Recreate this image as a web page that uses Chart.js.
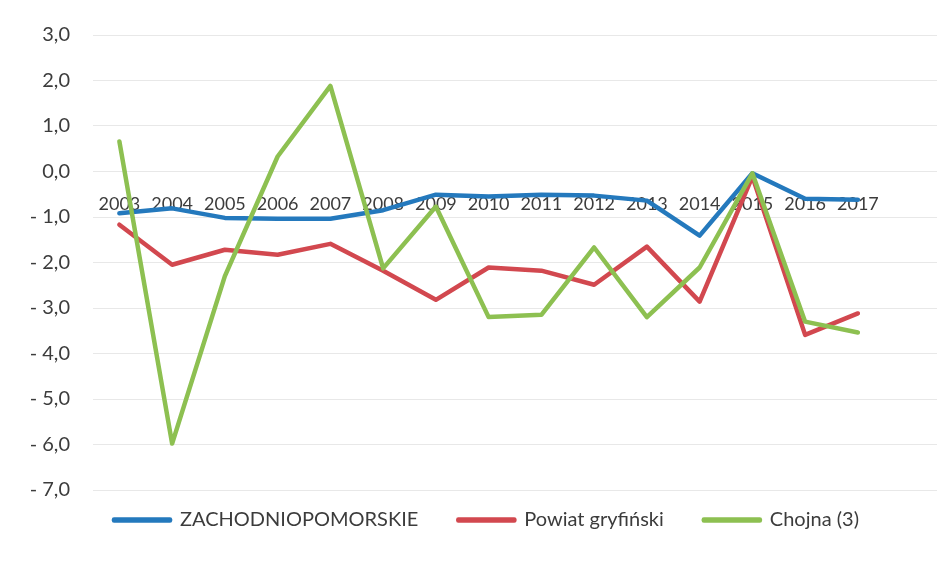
<!DOCTYPE html>
<html>
<head>
<meta charset="utf-8">
<script src="https://cdn.jsdelivr.net/npm/chart.js@4"></script>
<style>
  html, body { margin: 0; padding: 0; background: #fff; }
  #wrap { width: 952px; height: 573px; }
</style>
</head>
<body>
<div id="wrap"><canvas id="chart"></canvas></div>
<script>
// Daten
const years = ['2003','2004','2005','2006','2007','2008','2009','2010','2011','2012','2013','2014','2015','2016','2017',''];
const zachodniopomorskie = [-0.92,-0.81,-1.02,-1.04,-1.04,-0.85,-0.51,-0.55,-0.51,-0.53,-0.64,-1.41,-0.04,-0.60,-0.62];
const powiatGryfinski = [-1.17,-2.05,-1.72,-1.83,-1.59,-2.18,-2.82,-2.11,-2.18,-2.49,-1.65,-2.86,-0.11,-3.59,-3.12];
const chojna = [0.66,-5.98,-2.30,0.33,1.88,-2.13,-0.77,-3.20,-3.15,-1.67,-3.20,-2.11,-0.04,-3.30,-3.54];
const yTickLabels = ['- 7,0','- 6,0','- 5,0','- 4,0','- 3,0','- 2,0','- 1,0','0,0','1,0','2,0','3,0'];

const txt = '#3c3c3c';
const font = 'Lato, "Open Sans", sans-serif';

function line(label, data, color, order){
  return {
    label, data, order,
    borderColor: color, backgroundColor: color,
    borderWidth: 4.5, pointRadius: 0, tension: 0,
    borderJoinStyle: 'round', borderCapStyle: 'round'
  };
}

// Legende etwas verschieben (hoch + rechts)
const legendShift = {
  id: 'legendShift',
  afterLayout(c){
    c.legend.top -= 20; c.legend.bottom -= 20;
    c.legend.left += 18; c.legend.right += 18;
  }
};

new Chart(document.getElementById('chart'), {
  type: 'line',
  data: {
    labels: years,
    datasets: [
      line('ZACHODNIOPOMORSKIE', zachodniopomorskie, '#2479bd', 2),
      line('Powiat gryfiński', powiatGryfinski, '#d2484f', 1),
      line('Chojna (3)', chojna, '#8dc051', 0)
    ]
  },
  plugins: [legendShift],
  options: {
    responsive: true,
    maintainAspectRatio: false,
    animation: false,
    layout: { padding: { top: 33, right: 15, bottom: 13, left: 0 } },
    scales: {
      x: {
        position: { y: 0 },
        offset: true,
        grid: { display: false, drawTicks: false },
        border: { display: false },
        ticks: { color: txt, font: { family: font, size: 18 }, padding: 22, maxRotation: 0, autoSkip: false }
      },
      y: {
        min: -7, max: 3,
        afterFit(s){ s.width = 93; },
        grid: { color: '#e8e8e8', drawTicks: false },
        border: { display: false },
        ticks: {
          stepSize: 1, color: txt, padding: 23,
          font: { family: font, size: 20 },
          callback: (v, i) => yTickLabels[i]
        }
      }
    },
    plugins: {
      tooltip: { enabled: false },
      legend: {
        position: 'bottom',
        labels: {
          boxWidth: 56, boxHeight: 1, padding: 40,
          color: txt, font: { family: font, size: 20 },
          sort: (a, b) => a.datasetIndex - b.datasetIndex
        }
      }
    }
  }
});
</script>
</body>
</html>
